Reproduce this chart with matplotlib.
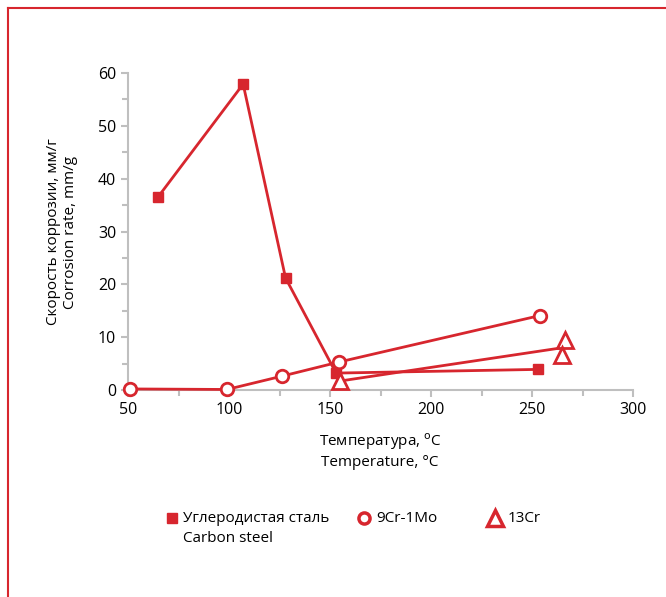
import matplotlib
matplotlib.use("Agg")
import matplotlib.pyplot as plt
from matplotlib.lines import Line2D

plt.rcParams['font.family'] = ['Open Sans', 'DejaVu Sans']

RED = '#d7262e'
GRAY = '#bfbfbf'

cs_x = [65, 107, 128, 153, 253]
cs_y = [36.6, 57.9, 21.2, 3.2, 3.9]

cr9_x = [51, 99, 126, 154.5, 254]
cr9_y = [0.2, 0.1, 2.6, 5.3, 14.1]

cr13_x = [155, 266.5, 265]
cr13_y = [1.7, 9.5, 6.6]
cr13_line_x = [155, 265]
cr13_line_y = [1.7, 8.0]

xticks = [50, 100, 150, 200, 250, 300]
yticks = [0, 10, 20, 30, 40, 50, 60]

fig = plt.figure(figsize=(6.66, 5.97), dpi=100)
ax = fig.add_axes([128/666, 1-390/597, (633-128)/666, (390-73)/597])

ax.plot(cs_x, cs_y, color=RED, lw=2, marker='s', ms=7, mfc=RED, mec=RED, zorder=3)
ax.plot(cr9_x, cr9_y, color=RED, lw=2, marker='o', ms=9, mfc='white', mec=RED, mew=2, zorder=3, clip_on=False)
ax.plot(cr13_line_x, cr13_line_y, color=RED, lw=2, zorder=3)
ax.plot(cr13_x, cr13_y, ls='none', marker='^', ms=11, mfc='white', mec=RED, mew=2, zorder=4, clip_on=False)

ax.set_xlim(50, 300)
ax.set_ylim(0, 60)
ax.set_xticks(xticks)
ax.set_yticks(yticks)
ax.set_xticks([75, 125, 175, 225, 275], minor=True)
ax.set_yticks([5, 15, 25, 35, 45, 55], minor=True)
for s in ['top', 'right']:
    ax.spines[s].set_visible(False)
for s in ['left', 'bottom']:
    ax.spines[s].set_color(GRAY)
    ax.spines[s].set_linewidth(1.5)
ax.tick_params(which='both', direction='out', color=GRAY, width=1.5, labelsize=11.5)
ax.tick_params(which='major', length=5)
ax.tick_params(which='minor', length=4)
ax.tick_params(axis='x', pad=4)

fig.text(62/666, 1-232/597, 'Скорость коррозии, мм/г\nCorrosion rate, mm/g', rotation=90,
         ha='center', va='center', fontsize=11, linespacing=1.1)
fig.text(380/666, 1-451/597, 'Температура, $^\\mathrm{o}$C\nTemperature, °C', ha='center', va='center',
         fontsize=11, linespacing=1.3)

# legend
fig.add_artist(Line2D([172/666], [1-518/597], marker='s', ms=7, color=RED, ls='none'))
fig.text(183/666, 1-518/597, 'Углеродистая сталь', ha='left', va='center', fontsize=11)
fig.text(183/666, 1-539/597, 'Carbon steel', ha='left', va='center', fontsize=11)
fig.add_artist(Line2D([364/666], [1-518/597], marker='o', ms=8, mfc='white', mec=RED, mew=2.5, ls='none'))
fig.text(376/666, 1-518/597, '9Cr-1Mo', ha='left', va='center', fontsize=11)
fig.add_artist(Line2D([495/666], [1-518/597], marker='^', ms=11, mfc='white', mec=RED, mew=2.5, ls='none'))
fig.text(508/666, 1-518/597, '13Cr', ha='left', va='center', fontsize=11)

# frame lines
fig.add_artist(Line2D([8/666, 1], [1-8/597, 1-8/597], color=RED, lw=1.5))
fig.add_artist(Line2D([8/666, 8/666], [0, 1-8/597], color=RED, lw=1.5))

fig.savefig('out.png', dpi=100)
